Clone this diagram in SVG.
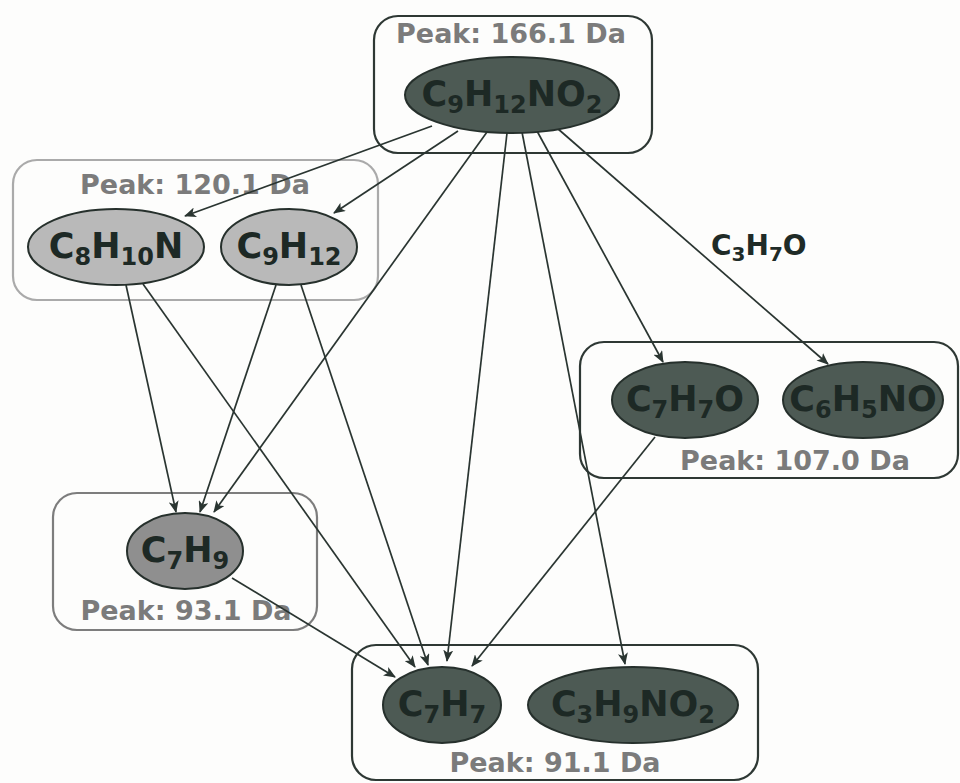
<svg xmlns="http://www.w3.org/2000/svg" width="960" height="783" viewBox="0 0 960 783">
<style>
.bg{fill:#fdfdfc}
.box{fill:none;stroke-width:2.2}
.bdark{stroke:#2e3834}
.blight{stroke:#aaaaaa}
.bmid{stroke:#7d7d7d}
.peak{font-family:"DejaVu Sans",Verdana,sans-serif;font-weight:bold;font-size:27px;fill:#7b7b7b;text-anchor:middle}
.ell{stroke:#26302c;stroke-width:2}
.dark{fill:#4d5a54}
.light{fill:#b9b9b9}
.mid{fill:#8f8f8f}
.f{font-family:"DejaVu Sans",Verdana,sans-serif;font-weight:bold;font-size:35px;fill:#1d2925;text-anchor:middle}
.s{font-size:24px}
.edge{stroke:#2a3531;stroke-width:1.7;fill:none;marker-end:url(#ah)}
.lbl{font-family:"DejaVu Sans",Verdana,sans-serif;font-weight:bold;font-size:28px;fill:#1f2b27}
.lbls{font-size:20px}
</style>
<defs>
<marker id="ah" viewBox="0 0 12 10" refX="11" refY="5" markerWidth="12" markerHeight="10" markerUnits="userSpaceOnUse" orient="auto">
<path d="M0,0 L12,5 L0,10 L3,5 z" fill="#2a3531"/>
</marker>
</defs>
<rect class="bg" x="0" y="0" width="960" height="783"/>

<g id="cluster-166">
<rect class="box bdark" x="374" y="16" width="278" height="137" rx="24"/>
<text class="peak" x="511" y="43">Peak: 166.1 Da</text>
</g>
<g id="cluster-120">
<rect class="box blight" x="13" y="160" width="365" height="140" rx="24"/>
<text class="peak" x="195" y="194">Peak: 120.1 Da</text>
</g>
<g id="cluster-107">
<rect class="box bdark" x="580" y="342" width="378" height="136" rx="24"/>
<text class="peak" x="795" y="470">Peak: 107.0 Da</text>
</g>
<g id="cluster-93">
<rect class="box bmid" x="53" y="493" width="264" height="137" rx="24"/>
<text class="peak" x="186" y="620">Peak: 93.1 Da</text>
</g>
<g id="cluster-91">
<rect class="box bdark" x="352" y="645" width="406" height="135" rx="24"/>
<text class="peak" x="555" y="772">Peak: 91.1 Da</text>
</g>

<g id="connectors">
<line class="edge" x1="432" y1="126" x2="185" y2="216"/>
<line class="edge" x1="458" y1="131" x2="334" y2="213"/>
<line class="edge" x1="487" y1="132" x2="214" y2="512"/>
<line class="edge" x1="507" y1="133" x2="447" y2="661"/>
<line class="edge" x1="522" y1="132" x2="625" y2="664"/>
<line class="edge" x1="537" y1="131" x2="663" y2="362"/>
<line class="edge" x1="557" y1="128" x2="828" y2="364"/>
<line class="edge" x1="126" y1="285" x2="176" y2="512"/>
<line class="edge" x1="143" y1="284" x2="415" y2="667"/>
<line class="edge" x1="276" y1="285" x2="200" y2="512"/>
<line class="edge" x1="301" y1="285" x2="428" y2="665"/>
<line class="edge" x1="232" y1="578" x2="395" y2="677"/>
<line class="edge" x1="655" y1="437" x2="472" y2="666"/>
<text class="lbl" x="711" y="255">C<tspan class="lbls" dy="6">3</tspan><tspan dy="-6">H</tspan><tspan class="lbls" dy="6">7</tspan><tspan dy="-6">O</tspan></text>
</g>

<g id="n-C9H12NO2">
<ellipse class="ell dark" cx="512" cy="95" rx="107" ry="38"/>
<text class="f" x="512" y="106">C<tspan class="s" dy="7">9</tspan><tspan dy="-7">H</tspan><tspan class="s" dy="7">12</tspan><tspan dy="-7">NO</tspan><tspan class="s" dy="7">2</tspan></text>
</g>
<g id="n-C8H10N">
<ellipse class="ell light" cx="116" cy="247" rx="88" ry="38"/>
<text class="f" x="116" y="258">C<tspan class="s" dy="7">8</tspan><tspan dy="-7">H</tspan><tspan class="s" dy="7">10</tspan><tspan dy="-7">N</tspan></text>
</g>
<g id="n-C9H12">
<ellipse class="ell light" cx="289" cy="247" rx="68" ry="38"/>
<text class="f" x="289" y="258">C<tspan class="s" dy="7">9</tspan><tspan dy="-7">H</tspan><tspan class="s" dy="7">12</tspan></text>
</g>
<g id="n-C7H7O">
<ellipse class="ell dark" cx="685" cy="400" rx="73" ry="38"/>
<text class="f" x="685" y="411">C<tspan class="s" dy="7">7</tspan><tspan dy="-7">H</tspan><tspan class="s" dy="7">7</tspan><tspan dy="-7">O</tspan></text>
</g>
<g id="n-C6H5NO">
<ellipse class="ell dark" cx="863" cy="400" rx="80" ry="38"/>
<text class="f" x="863" y="411">C<tspan class="s" dy="7">6</tspan><tspan dy="-7">H</tspan><tspan class="s" dy="7">5</tspan><tspan dy="-7">NO</tspan></text>
</g>
<g id="n-C7H9">
<ellipse class="ell mid" cx="185" cy="551" rx="58" ry="38"/>
<text class="f" x="185" y="562">C<tspan class="s" dy="7">7</tspan><tspan dy="-7">H</tspan><tspan class="s" dy="7">9</tspan></text>
</g>
<g id="n-C7H7">
<ellipse class="ell dark" cx="442" cy="705" rx="59" ry="38"/>
<text class="f" x="442" y="716">C<tspan class="s" dy="7">7</tspan><tspan dy="-7">H</tspan><tspan class="s" dy="7">7</tspan></text>
</g>
<g id="n-C3H9NO2">
<ellipse class="ell dark" cx="633" cy="705" rx="105" ry="38"/>
<text class="f" x="633" y="716">C<tspan class="s" dy="7">3</tspan><tspan dy="-7">H</tspan><tspan class="s" dy="7">9</tspan><tspan dy="-7">NO</tspan><tspan class="s" dy="7">2</tspan></text>
</g>
</svg>
